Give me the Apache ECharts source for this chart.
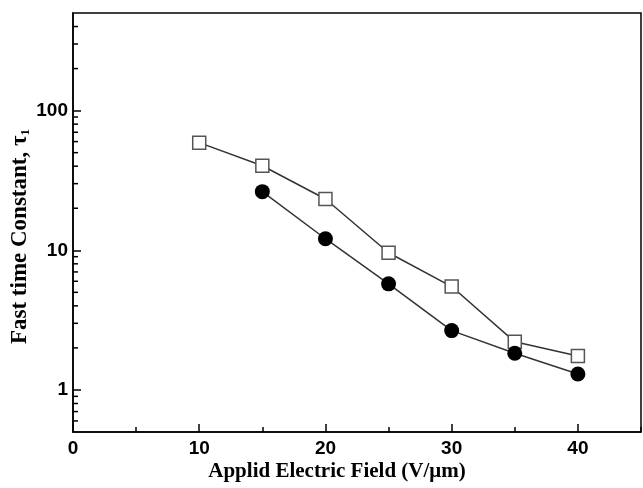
<!DOCTYPE html>
<html>
<head>
<meta charset="utf-8">
<script src="https://cdn.jsdelivr.net/npm/echarts@6/dist/echarts.min.js"></script>
<style>
  html, body { margin: 0; padding: 0; background: #fff; }
</style>
</head>
<body>
<div id="main" style="width: 643px; height: 488px;"></div>
<script>
    // field values (V/um)
    var fieldOpen = [10, 15, 20, 25, 30, 35, 40];
    var tauOpen = [59, 40.3, 23.3, 9.6, 5.5, 2.21, 1.75];
    var fieldFilled = [15, 20, 25, 30, 35, 40];
    var tauFilled = [26.3, 12.1, 5.75, 2.66, 1.83, 1.3];
    // log minor ticks on the y axis
    var yMinorTicks = [0.6, 0.7, 0.8, 0.9, 2, 3, 4, 5, 6, 7, 8, 9,
        20, 30, 40, 50, 60, 70, 80, 90, 200, 300, 400];

    var myChart = echarts.init(document.getElementById('main'));

    function pairs(xs, ys) {
        return xs.map(function (x, i) { return [x, ys[i]]; });
    }

    var option = {
        backgroundColor: '#fff',
        animation: false,
        grid: {
            left: 73, top: 13, right: 2, bottom: 56,
            show: true, borderColor: '#000', borderWidth: 1.5
        },
        xAxis: [{
            type: 'value',
            min: 0, max: 45, interval: 10,
            name: 'Applid Electric Field (V/\u03bcm)',
            nameLocation: 'middle',
            nameGap: 29,
            nameMoveOverlap: false,
            nameTextStyle: {
                fontFamily: 'Liberation Serif', fontWeight: 'bold', fontSize: 21,
                color: '#000', padding: [0, 40, 0, 0]
            },
            axisLine: { lineStyle: { color: '#000', width: 1.5 } },
            axisTick: { inside: true, length: 8, lineStyle: { color: '#000', width: 1.5 } },
            axisLabel: {
                margin: 7, showMaxLabel: false,
                fontFamily: 'Liberation Sans', fontWeight: 'bold', fontSize: 19, color: '#000'
            },
            splitLine: { show: false }
        }, {
            type: 'value',
            min: 0, max: 45, interval: 5,
            position: 'bottom',
            axisLine: { show: false },
            axisTick: { inside: true, length: 5, lineStyle: { color: '#000', width: 1.5 } },
            axisLabel: { show: false },
            splitLine: { show: false }
        }],
        yAxis: {
            type: 'log',
            logBase: 10,
            min: 0.5, max: 500,
            name: 'Fast time Constant, {t|\u03c4}{s|1}',
            nameLocation: 'middle',
            nameGap: 41,
            nameMoveOverlap: false,
            nameTextStyle: {
                fontFamily: 'Liberation Serif', fontWeight: 'bold', fontSize: 23, color: '#000',
                padding: [0, 28, 0, 0],
                rich: {
                    t: { fontFamily: 'Liberation Serif', fontSize: 23, color: '#000' },
                    s: { fontFamily: 'Liberation Serif', fontSize: 13, color: '#000', verticalAlign: 'bottom', padding: [10, 0, 0, 0] }
                }
            },
            axisLine: { lineStyle: { color: '#000', width: 1.5 } },
            axisTick: { inside: true, length: 8, lineStyle: { color: '#000', width: 1.5 } },
            axisLabel: {
                margin: 5, showMinLabel: false, showMaxLabel: false,
                fontFamily: 'Liberation Sans', fontWeight: 'bold', fontSize: 19, color: '#000'
            },
            splitLine: { show: false }
        },
        series: [{
            type: 'custom',
            silent: true,
            data: yMinorTicks.map(function (v) { return [0, v]; }),
            renderItem: function (params, api) {
                var p = api.coord([api.value(0), api.value(1)]);
                return {
                    type: 'line',
                    shape: { x1: p[0], y1: p[1], x2: p[0] + 5, y2: p[1] },
                    style: { stroke: '#000', lineWidth: 1.5 }
                };
            }
        }, {
            type: 'line',
            data: pairs(fieldOpen, tauOpen),
            symbol: 'rect',
            symbolSize: 13,
            lineStyle: { color: '#333', width: 1.5 },
            itemStyle: { color: '#fff', borderColor: '#555', borderWidth: 1.5 }
        }, {
            type: 'line',
            data: pairs(fieldFilled, tauFilled),
            symbol: 'circle',
            symbolSize: 15,
            lineStyle: { color: '#333', width: 1.5 },
            itemStyle: { color: '#000', borderColor: '#000', borderWidth: 0 }
        }]
    };

    myChart.setOption(option);
</script>
</body>
</html>
